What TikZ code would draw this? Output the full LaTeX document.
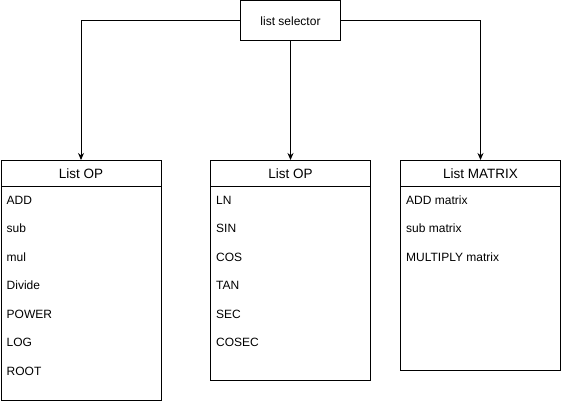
\documentclass[tikz,border=0pt]{standalone}
\usepackage{fontspec}
\setmainfont{Liberation Sans}
\usetikzlibrary{arrows.meta, positioning}

\tikzset{
  box/.style={draw, line width=1pt, inner sep=0pt, anchor=north west},
  head/.style={draw, line width=1pt, inner sep=0pt, anchor=north west,
    minimum width=160pt, minimum height=26pt, font=\fontsize{13.5}{15}\selectfont},
  item/.style={anchor=west, inner sep=0pt, font=\fontsize{12}{14}\selectfont},
  link/.style={line width=1pt, -{Stealth[length=7pt, width=6pt]}}
}

\begin{document}
\begin{tikzpicture}[x=1pt, y=-1pt]

    \useasboundingbox (0,0) rectangle (561,404);

    % Selector
    \node[box, minimum width=100pt, minimum height=40pt, font=\fontsize{12}{14}\selectfont]
      (sel) at (240,0.5) {list selector};

    % List boxes
    \node[box, minimum width=160pt, minimum height=240pt] (opbox) at (0.5,160) {};
    \node[head] (ophead) at (0.5,160) {List OP};

    \node[box, minimum width=160pt, minimum height=220pt] (trigbox) at (210,160) {};
    \node[head] (trighead) at (210,160) {List OP};

    \node[box, minimum width=160pt, minimum height=210pt] (matbox) at (400,160) {};
    \node[head] (mathead) at (400,160) {List MATRIX};

    % Items
    \foreach \txt [count=\i from 0] in {ADD, sub, mul, Divide, POWER, LOG, ROOT}
      \node[item] (op\i) at (6.5, 200+28.5*\i) {\txt};
    \foreach \txt [count=\i from 0] in {LN, SIN, COS, TAN, SEC, COSEC}
      \node[item] (trig\i) at (216, 200+28.5*\i) {\txt};
    \foreach \txt [count=\i from 0] in {ADD matrix, sub matrix, MULTIPLY matrix}
      \node[item] (mat\i) at (406, 200+28.5*\i) {\txt};

    % Connectors
    \draw[link] (sel.west) -| (ophead.north);
    \draw[link] (sel.south) -- (trighead.north);
    \draw[link] (sel.east) -| (mathead.north);

\end{tikzpicture}
\end{document}
